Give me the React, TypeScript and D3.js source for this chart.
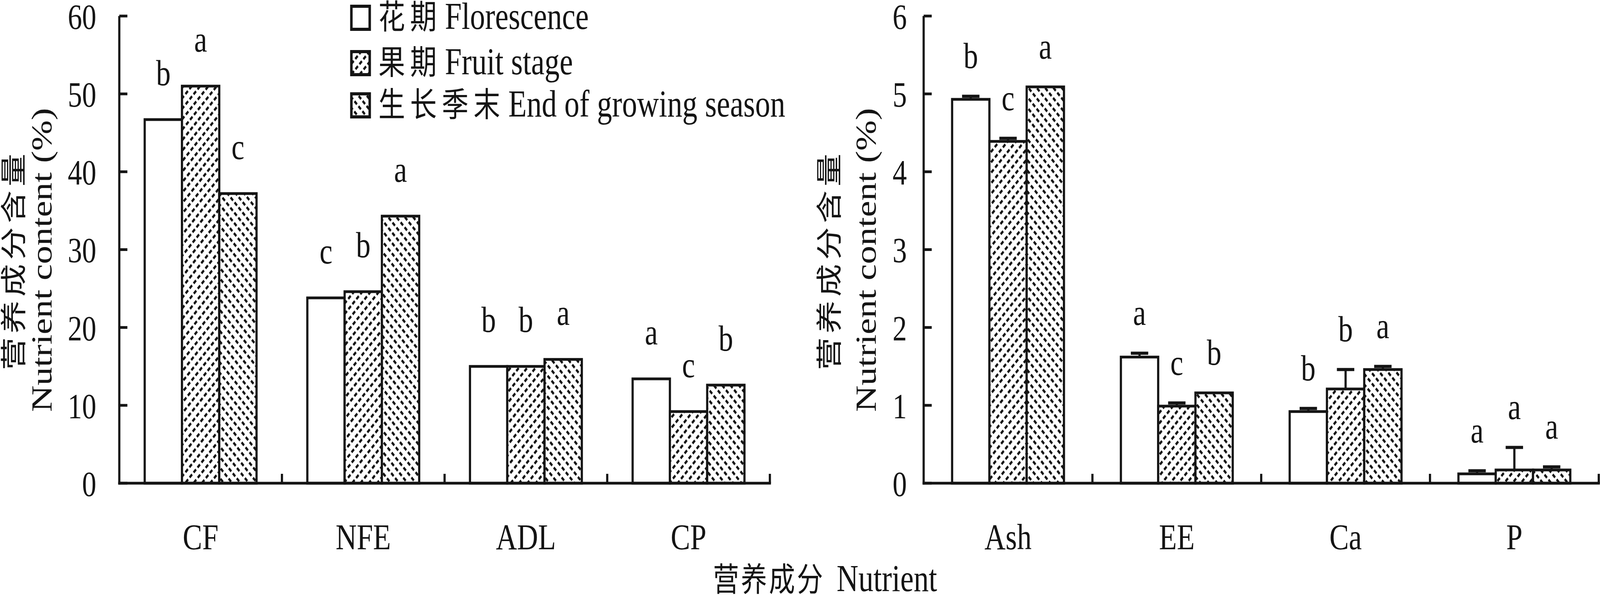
import * as d3 from "d3";

// series (legend) labels
const seriesZh = ["花期", "果期", "生长季末"];
const seriesEn = ["Florescence", "Fruit stage", "End of growing season"];
const seriesFill = ["#fff", "url(#hatchFruit)", "url(#hatchEnd)"];

// left panel: fibre / carbohydrate / protein
const leftCats = ["CF", "NFE", "ADL", "CP"];
const leftFlor = [46.7, 23.8, 15.0, 13.4];
const leftFruit = [51.0, 24.6, 15.0, 9.2];
const leftEnd = [37.2, 34.3, 15.9, 12.6];
const leftErr = [0, 0, 0, 0];
const leftLetters = [
  ["b", "a", "c"],
  ["c", "b", "a"],
  ["b", "b", "a"],
  ["a", "c", "b"],
];
const leftTicks = [0, 10, 20, 30, 40, 50, 60];

// right panel: ash / ether extract / minerals
const rightCats = ["Ash", "EE", "Ca", "P"];
const rightFlor = [4.93, 1.62, 0.92, 0.12];
const rightFruit = [4.39, 0.99, 1.21, 0.17];
const rightEnd = [5.09, 1.16, 1.46, 0.17];
const rightFlorErr = [0.04, 0.05, 0.04, 0.04];
const rightFruitErr = [0.04, 0.04, 0.25, 0.29];
const rightEndErr = [0, 0, 0.04, 0.04];
const rightLetters = [
  ["b", "c", "a"],
  ["a", "c", "b"],
  ["b", "b", "a"],
  ["a", "a", "a"],
];
const rightTicks = [0, 1, 2, 3, 4, 5, 6];

const W = 5150;
const H = 1522;
const ink = "#141414";
const serif = "'Liberation Serif', 'Times New Roman', serif";
const cjk = "'Noto Sans CJK SC', sans-serif";
const SW = 7;
const TOP = 41;
const BASE = 1236;

type PanelProps = {
  cats: string[];
  values: number[][];
  errs: number[][];
  letters: string[][];
  ticks: number[];
  left: number;
  right: number;
  barW: number;
  labelRight: number;
  zhX: number;
  enX: number;
  letterGap: number;
};

function Panel(p: PanelProps) {
  const yMax = d3.max(p.ticks) ?? 1;
  const y = d3.scaleLinear().domain([0, yMax]).range([BASE, TOP]);
  const x0 = d3.scaleBand<string>().domain(p.cats).range([p.left, p.right]).padding(0);
  const pad = (x0.bandwidth() - p.barW * 3) / 2;
  const x1 = d3
    .scaleBand<number>()
    .domain([0, 1, 2])
    .range([pad, x0.bandwidth() - pad])
    .padding(0);
  const bounds = p.cats.map((c) => (x0(c) ?? 0) + x0.bandwidth());
  const titleY = 665;

  return (
    <g>
      {/* bars */}
      {p.cats.map((c, ci) =>
        [0, 1, 2].map((s) => {
          const v = p.values[s][ci];
          return (
            <rect
              key={`${c}-${s}`}
              x={(x0(c) ?? 0) + (x1(s) ?? 0)}
              y={y(v)}
              width={x1.bandwidth()}
              height={y(0) - y(v)}
              fill={seriesFill[s]}
              stroke={ink}
              strokeWidth={SW}
            />
          );
        })
      )}
      {/* error bars + significance letters */}
      {p.cats.map((c, ci) =>
        [0, 1, 2].map((s) => {
          const v = p.values[s][ci];
          const e = p.errs[s][ci];
          const cx = (x0(c) ?? 0) + (x1(s) ?? 0) + x1.bandwidth() / 2;
          const top = y(v + e);
          return (
            <g key={`e-${c}-${s}`}>
              {e > 0 && (
                <>
                  <line x1={cx} x2={cx} y1={y(v)} y2={top} stroke={ink} strokeWidth={SW} />
                  <line x1={cx - 28} x2={cx + 28} y1={top} y2={top} stroke={ink} strokeWidth={8} />
                </>
              )}
              <text
                x={cx}
                y={top - p.letterGap}
                textAnchor="middle"
                fontFamily={serif}
                fontSize={94}
                fill={ink}
              >
                {p.letters[ci][s]}
              </text>
            </g>
          );
        })
      )}
      {/* y axis */}
      <line x1={p.left} x2={p.left} y1={y(0) + SW / 2} y2={y(yMax)} stroke={ink} strokeWidth={SW} />
      {p.ticks.map((t) => (
        <g key={`t-${t}`}>
          <line x1={p.left} x2={p.left + 26} y1={y(t)} y2={y(t)} stroke={ink} strokeWidth={SW} />
          <text x={p.labelRight} y={y(t) + 33} textAnchor="end" fontFamily={serif} fontSize={92} fill={ink}>
            {t}
          </text>
        </g>
      ))}
      {/* x axis */}
      <line x1={p.left - SW / 2} x2={p.right + SW / 2} y1={y(0)} y2={y(0)} stroke={ink} strokeWidth={SW} />
      {bounds.map((bx, i) => (
        <line key={`xt-${i}`} x1={bx} x2={bx} y1={y(0)} y2={y(0) - 24} stroke={ink} strokeWidth={SW} />
      ))}
      {p.cats.map((c) => (
        <text
          key={`xl-${c}`}
          x={(x0(c) ?? 0) + x0.bandwidth() / 2}
          y={1405}
          textAnchor="middle"
          fontFamily={serif}
          fontSize={94}
          fill={ink}
        >
          {c}
        </text>
      ))}
      {/* y titles */}
      <text
        transform={`translate(${p.zhX},${titleY}) rotate(-90)`}
        textAnchor="middle"
        fontFamily={cjk}
        fontSize={84}
        letterSpacing={10}
        fill={ink}
      >
        营养成分含量
      </text>
      <text
        transform={`translate(${p.enX},${titleY}) rotate(-90)`}
        textAnchor="middle"
        fontFamily={serif}
        fontSize={94}
        fill={ink}
      >
        Nutrient content (%)
      </text>
    </g>
  );
}

export default function App() {
  const legendRows = [74, 190, 298];
  // the svg fills the whole viewport so that the 5150x1522 layout maps onto the photographed page
  return (
    <svg
      viewBox={`0 0 ${W} ${H}`}
      preserveAspectRatio="none"
      style={{ position: "fixed", left: 0, top: 0, width: "100vw", height: "100vh", display: "block", background: "#fff" }}
    >
      <defs>
        <pattern id="hatchFruit" patternUnits="userSpaceOnUse" width={18} height={19} patternTransform="rotate(-45)">
          <rect width={18} height={19} fill="#fff" />
          <rect x={0} y={0} width={11} height={6.5} fill={ink} />
        </pattern>
        <pattern id="hatchEnd" patternUnits="userSpaceOnUse" width={18} height={19} patternTransform="rotate(45)">
          <rect width={18} height={19} fill="#fff" />
          <rect x={0} y={0} width={11} height={6.5} fill={ink} />
        </pattern>
      </defs>
      <rect width={W} height={H} fill="#fff" />

      <Panel
        cats={leftCats}
        values={[leftFlor, leftFruit, leftEnd]}
        errs={[leftErr, leftErr, leftErr]}
        letters={leftLetters}
        ticks={leftTicks}
        left={384}
        right={2478}
        barW={120}
        labelRight={310}
        zhX={74}
        enX={166}
        letterGap={88}
      />
      <Panel
        cats={rightCats}
        values={[rightFlor, rightFruit, rightEnd]}
        errs={[rightFlorErr, rightFruitErr, rightEndErr]}
        letters={rightLetters}
        ticks={rightTicks}
        left={2973}
        right={5146}
        barW={120}
        labelRight={2919}
        zhX={2700}
        enX={2819}
        letterGap={72}
      />

      {/* legend */}
      {seriesZh.map((zh, i) => (
        <g key={`lg-${i}`}>
          <rect
            x={1131}
            y={legendRows[i] - 58}
            width={59}
            height={59}
            fill={seriesFill[i]}
            stroke={ink}
            strokeWidth={8}
          />
          <text x={1218} y={legendRows[i]} fontFamily={cjk} fontSize={86} letterSpacing={16} fill={ink}>
            {zh}
          </text>
          <text x={1218 + zh.length * 102 + 10} y={legendRows[i]} fontFamily={serif} fontSize={97} fill={ink}>
            {seriesEn[i]}
          </text>
        </g>
      ))}

      {/* x title */}
      <text x={2295} y={1512} fontFamily={cjk} fontSize={84} letterSpacing={6} fill={ink}>
        营养成分
      </text>
      <text x={2693} y={1512} fontFamily={serif} fontSize={97} fill={ink}>
        Nutrient
      </text>
    </svg>
  );
}
